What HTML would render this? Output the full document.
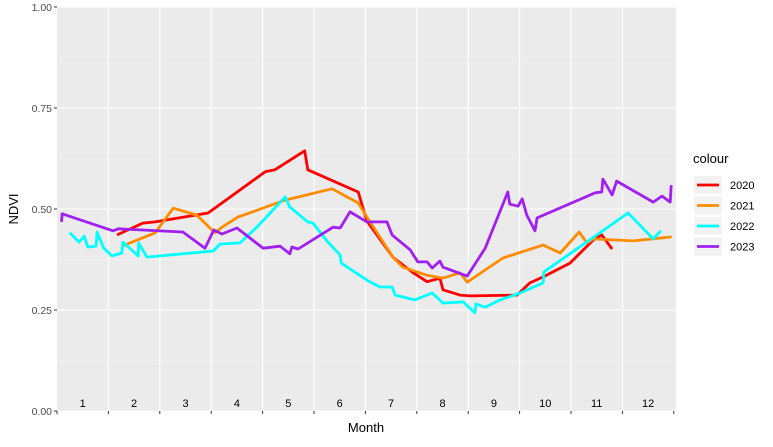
<!DOCTYPE html>
<html><head><meta charset="utf-8"><style>
body{margin:0;background:#fff;font-family:"Liberation Sans",sans-serif}
svg text{font-family:"Liberation Sans",sans-serif}
</style></head><body>
<svg id="chart" width="773" height="442" xmlns="http://www.w3.org/2000/svg">
<rect x="0" y="0" width="773" height="442" fill="#fff"/>
<rect x="57" y="7" width="619" height="404" fill="#ebebeb"/>
<g id="grid"></g><g id="series"></g><g id="axes"></g><g id="legend"></g>
<text transform="translate(18,209) rotate(-90)" text-anchor="middle" font-size="13" fill="#000">NDVI</text>
<text x="366" y="432" text-anchor="middle" font-size="13" fill="#000">Month</text>
</svg>
<script>
const yTicks=[0,0.25,0.5,0.75,1];
const yTickLabels=["0.00","0.25","0.50","0.75","1.00"];
const months=["1","2","3","4","5","6","7","8","9","10","11","12"];
const seriesNames=["2020","2021","2022","2023"];
const seriesColors=["#ff0000","#ff8c00","#00ffff","#a020f0"];
const m2020=[2.17,2.67,2.91,3.94,5.05,5.24,5.82,5.88,6.86,7.03,7.54,7.93,8.20,8.45,8.51,8.84,9.04,9.95,10.20,10.46,10.98,11.43,11.60,11.80];
const v2020=[0.436,0.465,0.468,0.490,0.592,0.597,0.644,0.597,0.542,0.470,0.380,0.342,0.320,0.329,0.300,0.287,0.285,0.287,0.317,0.332,0.366,0.423,0.436,0.401];
const m2021=[2.26,2.91,3.26,3.72,4.07,4.21,4.52,5.44,6.35,6.86,7.03,7.54,7.73,8.20,8.51,8.84,8.98,9.68,10.46,10.79,11.16,11.31,11.43,12.21,12.96];
const v2021=[0.408,0.441,0.502,0.485,0.441,0.455,0.480,0.522,0.550,0.515,0.480,0.380,0.356,0.336,0.329,0.342,0.319,0.379,0.411,0.391,0.443,0.416,0.426,0.421,0.431];
const m2022=[1.25,1.43,1.53,1.60,1.76,1.78,1.91,2.07,2.26,2.28,2.58,2.59,2.75,4.04,4.17,4.56,4.91,5.44,5.53,5.88,5.98,6.27,6.51,6.53,7.03,7.28,7.52,7.58,7.96,8.30,8.51,8.90,9.13,9.15,9.33,9.62,10.01,10.46,10.47,12.11,12.60,12.75];
const v2022=[0.441,0.418,0.433,0.406,0.408,0.443,0.403,0.384,0.391,0.418,0.384,0.416,0.381,0.396,0.413,0.416,0.458,0.530,0.505,0.468,0.465,0.418,0.386,0.366,0.324,0.307,0.307,0.287,0.275,0.292,0.267,0.270,0.243,0.265,0.257,0.275,0.292,0.317,0.344,0.490,0.426,0.446];
const m2023=[1.09,1.10,2.09,2.19,3.45,3.88,4.05,4.21,4.50,5.01,5.34,5.53,5.57,5.69,6.37,6.51,6.70,7.03,7.42,7.52,7.87,8.02,8.20,8.30,8.45,8.51,8.98,9.33,9.77,9.81,9.97,10.05,10.14,10.30,10.34,11.47,11.60,11.62,11.80,11.89,12.60,12.77,12.93,12.95];
const v2023=[0.468,0.488,0.446,0.451,0.443,0.403,0.448,0.438,0.453,0.403,0.408,0.389,0.406,0.401,0.455,0.453,0.493,0.468,0.468,0.436,0.399,0.369,0.369,0.354,0.371,0.356,0.334,0.403,0.542,0.512,0.507,0.525,0.485,0.446,0.478,0.540,0.542,0.574,0.535,0.569,0.517,0.532,0.517,0.559];
const MX=[m2020,m2021,m2022,m2023], VY=[v2020,v2021,v2022,v2023];
const NS="http://www.w3.org/2000/svg";
const X0=57,X1=676,Y0=411,Y1=7,MW=51.4;
const xs=m=>X0+(m-1)*MW;
const ys=v=>Y0-v*(Y0-Y1);
function mk(tag,attrs,parent){const e=document.createElementNS(NS,tag);for(const k in attrs)e.setAttribute(k,attrs[k]);parent.appendChild(e);return e;}
const grid=document.getElementById('grid'),axes=document.getElementById('axes'),ser=document.getElementById('series'),leg=document.getElementById('legend');
for(let i=0;i<yTicks.length-1;i++){const v=(yTicks[i]+yTicks[i+1])/2;
 const l=mk('line',{x1:X0,x2:X1,y1:ys(v),y2:ys(v),stroke:'#f5f5f5','stroke-width':0.6},grid);
 
 }
yTicks.forEach((t,i)=>{
 const l=mk('line',{x1:X0,x2:X1,y1:ys(t),y2:ys(t),stroke:'#fff','stroke-width':1.1},grid);
 
 
 const tk=mk('line',{x1:X0-3,x2:X0,y1:ys(t),y2:ys(t),stroke:'#333','stroke-width':1},axes);
 
 
 const tx=mk('text',{x:X0-5,y:ys(t)+4,'text-anchor':'end','font-size':'10.5',fill:'#4d4d4d'},axes);
 tx.textContent=yTickLabels[i];
 
 });
for(let b=1;b<=13;b++){const x=xs(b);
 if(b>1&&b<13){const l=mk('line',{x1:x,x2:x,y1:Y1,y2:Y0,stroke:'#fff','stroke-width':1.1},grid);
 
 }
 const tk=mk('line',{x1:x,x2:x,y1:Y0,y2:Y0+3,stroke:'#333','stroke-width':1},axes);
 
 }
months.forEach((m,i)=>{const t=mk('text',{x:xs(i+1.5),y:407,'text-anchor':'middle','font-size':'11',fill:'#000'},axes);
 t.textContent=m;
 
 });
MX.forEach((mx,s)=>{const pts=mx.map((m,i)=>xs(m).toFixed(1)+','+ys(VY[s][i]).toFixed(1)).join(' ');
 const p=mk('polyline',{points:pts,fill:'none',stroke:seriesColors[s],'stroke-width':2.8,'stroke-linejoin':'round'},ser);
 
 });
const lt=mk('text',{x:693,y:163,'font-size':'13',fill:'#000'},leg);
lt.textContent='colour';


seriesNames.forEach((n,i)=>{const y=185+i*20.5;
 const bg=mk('rect',{x:694,y:y-9,width:28,height:18,fill:'#f2f2f2'},leg);
 
 
 const l=mk('line',{x1:697,x2:719,y1:y,y2:y,stroke:seriesColors[i],'stroke-width':2.8},leg);
 
 
 const t=mk('text',{x:730,y:y+4,'font-size':'11',fill:'#000'},leg);
 t.textContent=n;
 
 });
</script>
</body></html>
